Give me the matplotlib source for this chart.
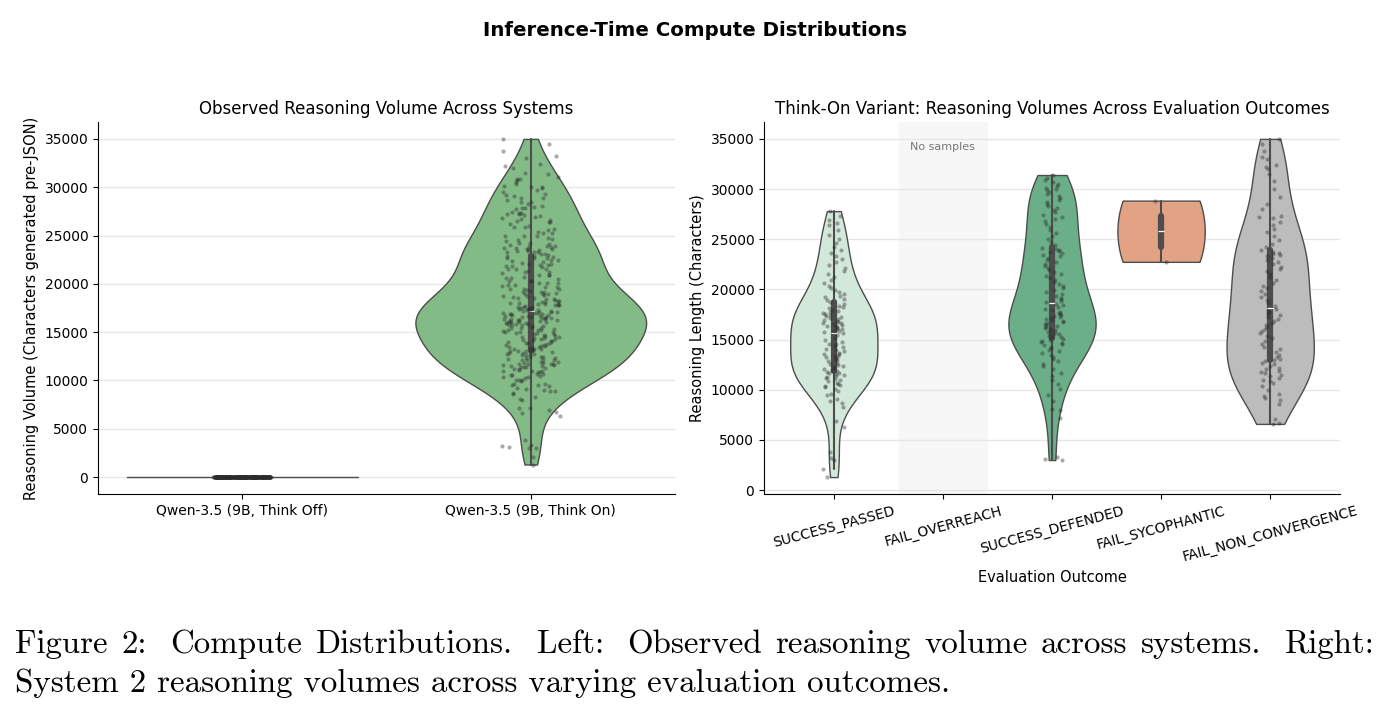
import matplotlib
matplotlib.use("Agg")
import matplotlib.pyplot as plt
import numpy as np
import pandas as pd
import seaborn as sns

# reasoning lengths (characters) per evaluation outcome, Think-On runs
success_passed = [
    1300, 2100, 3000, 3200, 3800, 6300, 6900, 8300, 8700, 8900,
    9100, 9500, 9600, 9900, 10100, 10300, 10400, 10500, 10600, 10700,
    10900, 11000, 11100, 11200, 11300, 11400, 11500, 11600, 11650, 11700,
    11750,
    11850, 11960, 12080, 12150, 12290, 12340, 12470, 12610, 12690, 12820,
    12950, 13040, 13120, 13260, 13330, 13410, 13520, 13580, 13690, 13840,
    13920, 14050, 14230, 14380, 14520, 14610, 14780, 14990, 15180, 15430,
    15620,
    15750, 15820, 15900, 16010, 16080, 16150, 16230, 16310, 16380, 16460,
    16540, 16620, 16700, 16790, 16880, 16950, 17040, 17130, 17220, 17310,
    17420, 17530, 17650, 17760, 17880, 17990, 18120, 18250, 18390, 18540,
    18700,
    18900, 19050, 19200, 19350, 19500, 19700, 19900, 20100, 20300, 20600,
    20900, 21200, 21500, 21800, 22100, 22400, 22700, 23000, 23300, 23600,
    23900, 24200, 24600, 25000, 25400, 25900, 26400, 26600, 26900, 27300,
    27800,
]
success_defended = [
    3000, 3100, 3300, 7200, 8000, 8100, 8900, 9500, 10100, 10600,
    11000, 11400, 11700, 12100, 12400, 12600, 12900, 13100, 13300, 13500,
    13700, 13850, 14000, 14150, 14300, 14420, 14550, 14680, 14800, 14900,
    14980, 15050,
    15150, 15240, 15370, 15430, 15560, 15640, 15770, 15830, 15960, 16040,
    16170, 16230, 16360, 16440, 16570, 16630, 16760, 16840, 16970, 17030,
    17160, 17220, 17370, 17440, 17600, 17700, 17800, 17950, 18100, 18250,
    18400, 18550,
    18700, 18850, 19000, 19150, 19300, 19500, 19700, 19900, 20100, 20300,
    20500, 20700, 20900, 21100, 21300, 21500, 21700, 21900, 22100, 22300,
    22500, 22700, 22900, 23100, 23300, 23450, 23600, 23700, 23800, 23900,
    24000, 24150,
    24400, 24700, 25000, 25300, 25600, 25900, 26200, 26500, 26800, 27000,
    27200, 27400, 27700, 27900, 28100, 28300, 28500, 28700, 28900, 29100,
    29300, 29500, 29700, 29900, 30000, 30100, 30300, 30500, 30700, 30900,
    31100, 31400,
]
fail_sycophantic = [22750, 28850]
fail_non_convergence = [
    6600, 6700, 7100, 8600, 9000, 9200, 9400, 9600, 10000, 10400,
    10700, 10900, 11000, 11200, 11400, 11500, 11700, 11800, 11900, 12100,
    12200, 12400, 12600, 12700, 12850,
    13000, 13100, 13300, 13500, 13800, 14100, 14300, 14600, 14900, 15200,
    15400, 15700, 15900, 16100, 16300, 16500, 16700, 16900, 17100, 17300,
    17500, 17600, 17800, 17900, 18050,
    18300, 18600, 18900, 19200, 19500, 19800, 20100, 20300, 20600, 20900,
    21200, 21500, 21800, 22000, 22200, 22500, 22700, 22900, 23100, 23300,
    23400, 23500, 23600, 23700, 23900,
    24200, 24500, 24900, 25300, 25700, 26000, 26400, 26700, 27100, 27200,
    27300, 28000, 28500, 29200, 30000, 30800, 31500, 32000, 32200, 32400,
    33000, 33200, 33800, 34500, 35000,
]

outcomes = ["SUCCESS_PASSED", "FAIL_OVERREACH", "SUCCESS_DEFENDED",
            "FAIL_SYCOPHANTIC", "FAIL_NON_CONVERGENCE"]
outcome_values = {
    "SUCCESS_PASSED": success_passed,
    "FAIL_OVERREACH": [],
    "SUCCESS_DEFENDED": success_defended,
    "FAIL_SYCOPHANTIC": fail_sycophantic,
    "FAIL_NON_CONVERGENCE": fail_non_convergence,
}
outcome_colors = {
    "SUCCESS_PASSED": "#d2e8db",
    "FAIL_OVERREACH": "#dddddd",
    "SUCCESS_DEFENDED": "#6aaf88",
    "FAIL_SYCOPHANTIC": "#e2a385",
    "FAIL_NON_CONVERGENCE": "#bcbcbc",
}

systems = ["Qwen-3.5 (9B, Think Off)", "Qwen-3.5 (9B, Think On)"]
# think-on = all graded think-on runs; think-off never produced reasoning text
think_on_chars = success_passed + success_defended + fail_sycophantic + fail_non_convergence
think_off_chars = [0] * len(think_on_chars)
system_colors = {systems[0]: "#82bb86", systems[1]: "#82bb86"}

sns.set_style("ticks")
plt.rcParams["font.family"] = ["DejaVu Sans"]
for k in ("text.color", "axes.labelcolor", "xtick.color", "ytick.color", "axes.edgecolor"):
    plt.rcParams[k] = "black"

df_left = pd.DataFrame({
    "system": [systems[0]] * len(think_off_chars) + [systems[1]] * len(think_on_chars),
    "chars": think_off_chars + think_on_chars,
})
rows = []
for o in outcomes:
    for v in outcome_values[o]:
        rows.append((o, v))
df_right = pd.DataFrame(rows, columns=["outcome", "chars"])

W, H = 1390, 715
fig = plt.figure(figsize=(13.9, 7.15), dpi=100)
ax1 = fig.add_axes([98 / W, 1 - 494 / H, (675 - 98) / W, (494 - 122) / H])
ax2 = fig.add_axes([764 / W, 1 - 494 / H, (1340 - 764) / W, (494 - 122) / H])

np.random.seed(3)
edge = "#4d4d4d"

# left panel
sns.violinplot(data=df_left, x="system", y="chars", order=systems, hue="system",
               palette=system_colors, legend=False, cut=0, density_norm="width",
               inner="box", linecolor=edge, linewidth=1, saturation=1, ax=ax1)
sns.stripplot(data=df_left, x="system", y="chars", order=systems, color="#2b2b2b",
              alpha=0.4, size=3, jitter=0.1, ax=ax1)
ax1.set_title("Observed Reasoning Volume Across Systems", fontsize=12)
ax1.set_xlabel("")
ax1.set_ylabel("Reasoning Volume (Characters generated pre-JSON)", fontsize=10.5)

# right panel
ax2.axvspan(0.6, 1.4, color="#f7f7f7", zorder=0)
sns.violinplot(data=df_right, x="outcome", y="chars", order=outcomes, hue="outcome",
               hue_order=outcomes, palette=outcome_colors, legend=False, cut=0,
               density_norm="width", inner="box", linecolor=edge, linewidth=1,
               saturation=1, ax=ax2)
sns.stripplot(data=df_right, x="outcome", y="chars", order=outcomes, color="#2b2b2b",
              alpha=0.4, size=3, jitter=0.1, ax=ax2)
ax2.text(1, 34200, "No samples", ha="center", va="center", fontsize=8, color="#777777")
ax2.set_xlim(-0.64, 4.64)
ax2.set_title("Think-On Variant: Reasoning Volumes Across Evaluation Outcomes", fontsize=12)
ax2.set_xlabel("Evaluation Outcome", fontsize=10.5)
ax2.set_ylabel("Reasoning Length (Characters)", fontsize=10.5)
plt.setp(ax2.get_xticklabels(), rotation=15, ha="center")

for ax in (ax1, ax2):
    ax.set_yticks(np.arange(0, 35001, 5000))
    ax.yaxis.grid(True, color="#e6e6e6", linewidth=1)
    ax.set_axisbelow(True)
    ax.tick_params(labelsize=10)
    sns.despine(ax=ax)

fig.suptitle("Inference-Time Compute Distributions", fontsize=14.2, fontweight="bold",
             y=1 - 30 / H, va="center")

# LaTeX-style caption, first line justified
cap1 = "Figure 2: Compute Distributions. Left: Observed reasoning volume across systems. Right:"
cap2 = "System 2 reasoning volumes across varying evaluation outcomes."
cap_kw = dict(fontsize=23.7, family="cmr10", va="baseline", ha="left", color="black")
words = cap1.split()
objs = [fig.text(0, 1 - 653 / H, w, **cap_kw) for w in words]
fig.text(15 / W, 1 - 692 / H, cap2, **cap_kw)
fig.canvas.draw()
r = fig.canvas.get_renderer()
widths = [t.get_window_extent(r).width for t in objs]
weights = [1.8 if w.endswith((".", ":")) else 1.0 for w in words[:-1]]
unit = (1375 - 15 - sum(widths)) / sum(weights)
x = 15
for i, t in enumerate(objs):
    t.set_x(x / W)
    x += widths[i] + (unit * weights[i] if i < len(weights) else 0)

fig.savefig("out.png", dpi=100)
